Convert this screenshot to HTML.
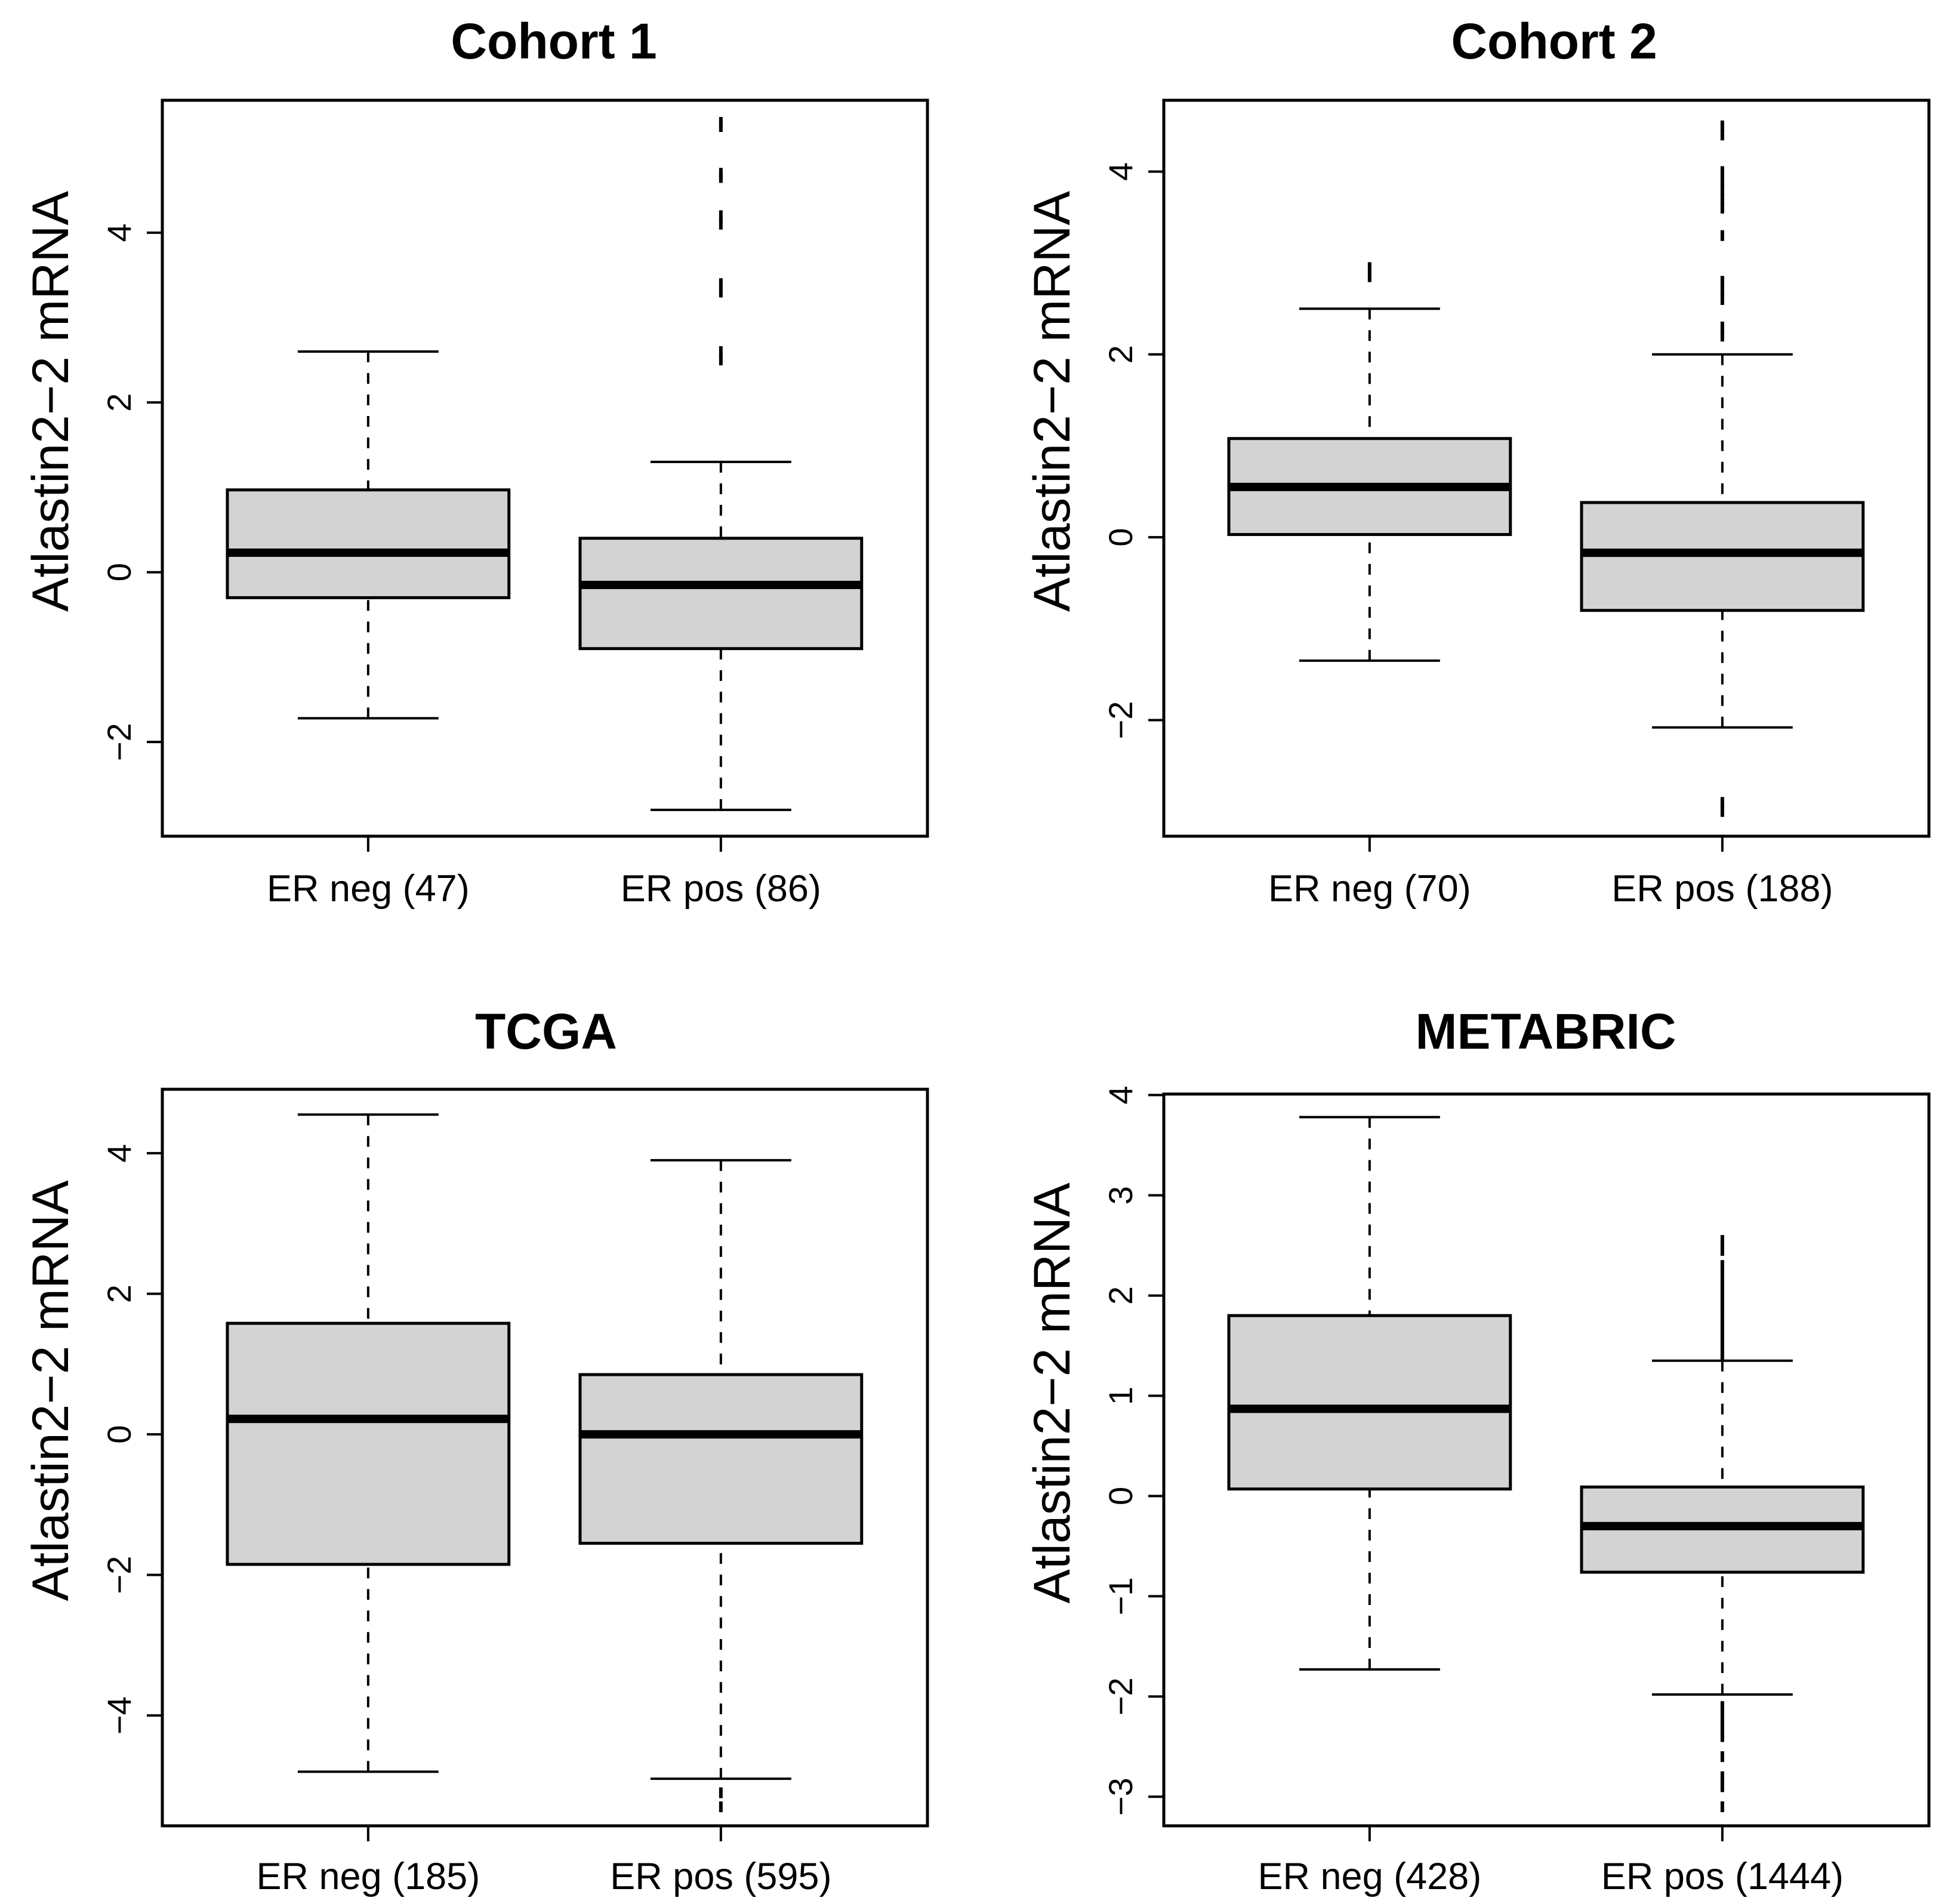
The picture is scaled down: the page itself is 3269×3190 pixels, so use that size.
<!DOCTYPE html>
<html><head><meta charset="utf-8"><style>
html,body{margin:0;padding:0;background:#fff}
svg{display:block}
text{font-family:"Liberation Sans",Arial,sans-serif;fill:#000}
</style></head><body>
<svg id="chart" width="3269" height="3190" viewBox="0 0 3269 3190" xmlns="http://www.w3.org/2000/svg"></svg>
<script>
// ----- data -----
const panelTitles = ["Cohort 1", "Cohort 2", "TCGA", "METABRIC"];
const groupLabels = [["ER neg (47)","ER pos (86)"],["ER neg (70)","ER pos (188)"],["ER neg (185)","ER pos (595)"],["ER neg (428)","ER pos (1444)"]];
// each: [lowWhisker, Q1, median, Q3, highWhisker]
const cohort1Stats = [[-1.72,-0.3,0.23,0.97,2.6],[-2.8,-0.9,-0.15,0.4,1.3]];
const cohort2Stats = [[-1.35,0.03,0.55,1.08,2.5],[-2.08,-0.8,-0.17,0.38,2.0]];
const tcgaStats = [[-4.8,-1.85,0.22,1.58,4.55],[-4.9,-1.55,0.0,0.85,3.9]];
const metabricStats = [[-1.73,0.07,0.87,1.8,3.78],[-1.98,-0.76,-0.3,0.09,1.35]];
const cohort1Outliers = [[],[5.3,5.25,4.7,4.65,4.2,4.1,3.4,3.3,2.6,2.5]];
const cohort2Outliers = [[2.95,2.85],[4.5,4.4,4.0,3.9,3.8,3.7,3.6,3.3,2.8,2.7,2.6,2.3,2.2,-2.9,-3.0]];
const tcgaOutliers = [[],[-5.1,-5.3]];
const metabricOutliers = [[],[2.55,2.45,2.3,2.2,2.1,2.0,1.9,1.8,1.7,1.6,1.5,1.4,-2.1,-2.2,-2.3,-2.4,-2.6,-2.8,-2.9,-3.1]];
const cohort1Ticks = [-2,0,2,4];
const cohort2Ticks = [-2,0,2,4];
const tcgaTicks = [-4,-2,0,2,4];
const metabricTicks = [-3,-2,-1,0,1,2,3,4];
const yDomains = [[-3.11,5.56],[-3.27,4.78],[-5.57,4.91],[-3.29,4.01]];

const allStats=[cohort1Stats,cohort2Stats,tcgaStats,metabricStats];
const allOut=[cohort1Outliers,cohort2Outliers,tcgaOutliers,metabricOutliers];
const allTicks=[cohort1Ticks,cohort2Ticks,tcgaTicks,metabricTicks];
// layout (not data)
const layouts=[
 {l:272,r:1554,t:168,b:1401,titleX:928,titleY:98,labY:1510,yTitleX:84,tickX:199},
 {l:1950,r:3232,t:168,b:1401,titleX:2604,titleY:98,labY:1510,yTitleX:1762,tickX:1877},
 {l:272,r:1554,t:1825,b:3059,titleX:915,titleY:1757,labY:3165,yTitleX:84,tickX:199},
 {l:1950,r:3232,t:1833,b:3059,titleX:2590,titleY:1757,labY:3165,yTitleX:1762,tickX:1877}
];
const svg=document.getElementById('chart');
const NS="http://www.w3.org/2000/svg";
function mk(tag,attrs,parent){const e=document.createElementNS(NS,tag);for(const k in attrs)e.setAttribute(k,attrs[k]);parent.appendChild(e);return e;}

layouts.forEach((L,p)=>{
  const g=mk('g',{},svg);
  
  
  const [d0,d1]=yDomains[p];
  const y=v=>L.b-(v-d0)/(d1-d0)*(L.b-L.t);
  const w=L.r-L.l;
  const xs=[L.l+w*0.269,L.l+w*0.73];
  const hw=w*0.184;
  const tt=mk('text',{x:L.titleX,y:L.titleY,'text-anchor':'middle','font-size':84,'font-weight':'bold'},g);
  tt.textContent=panelTitles[p];
  
  
  const yc=(L.t+L.b)/2-112;
  const yt=mk('text',{x:L.yTitleX,y:yc,'text-anchor':'middle','font-size':86,transform:`rotate(-90 ${L.yTitleX} ${yc}) translate(0 30)`},g);
  yt.textContent="Atlastin2\u22122 mRNA";
  
  
  allTicks[p].forEach(tv=>{
    const ty=y(tv);
    const tl=mk('line',{x1:L.l-26,x2:L.l,y1:ty,y2:ty,stroke:'#000','stroke-width':4},g);
    
    
    const lb=mk('text',{x:L.tickX,y:ty,'text-anchor':'middle','font-size':56,transform:`rotate(-90 ${L.tickX} ${ty}) translate(0 20)`},g);
    lb.textContent=tv<0?'\u2212'+Math.abs(tv):String(tv);
    
    
  });
  allStats[p].forEach((s,i)=>{
    const cx=xs[i];
    const bg=mk('g',{},g);
    
    
    const wl=mk('line',{x1:cx,x2:cx,y1:y(s[0]),y2:y(s[1]),stroke:'#000','stroke-width':4,'stroke-dasharray':'18 18'},bg);
    
    
    const wh=mk('line',{x1:cx,x2:cx,y1:y(s[4]),y2:y(s[3]),stroke:'#000','stroke-width':4,'stroke-dasharray':'18 18'},bg);
    
    
    [s[0],s[4]].forEach(v=>{
      const c=mk('line',{x1:cx-hw/2,x2:cx+hw/2,y1:y(v),y2:y(v),stroke:'#000','stroke-width':4},bg);
      
      
    });
    const r=mk('rect',{x:cx-hw,y:y(s[3]),width:2*hw,height:y(s[1])-y(s[3]),fill:'#d3d3d3',stroke:'#000','stroke-width':5},bg);
    
    
    const m=mk('line',{x1:cx-hw,x2:cx+hw,y1:y(s[2]),y2:y(s[2]),stroke:'#000','stroke-width':14},bg);
    
    
    allOut[p][i].forEach(v=>{
      const o=mk('line',{x1:cx,x2:cx,y1:y(v)-9,y2:y(v)+9,stroke:'#000','stroke-width':6},bg);
      
      
    });
    const xt=mk('line',{x1:cx,x2:cx,y1:L.b,y2:L.b+26,stroke:'#000','stroke-width':4},g);
    
    
    const xl=mk('text',{x:cx,y:L.labY,'text-anchor':'middle','font-size':63},g);
    xl.textContent=groupLabels[p][i];
    
    
  });
  const fr=mk('rect',{x:L.l,y:L.t,width:w,height:L.b-L.t,fill:'none',stroke:'#000','stroke-width':5},g);
  
  
});
</script>
</body></html>
